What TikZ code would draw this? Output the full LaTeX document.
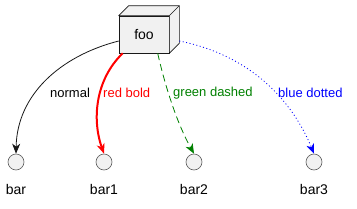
\documentclass[tikz,border=0pt]{standalone}
\usepackage{fontspec}
\setmainfont{Liberation Sans}
\usetikzlibrary{arrows.meta,calc}
\definecolor{boxfill}{HTML}{F1F1F1}
\definecolor{boxline}{HTML}{181818}
\definecolor{dgreen}{RGB}{0,128,0}
\tikzset{
  cube/.style={draw=boxline, fill=boxfill, line width=0.6pt, minimum width=50pt, minimum height=37pt, inner sep=0pt, font=\fontsize{14}{16}\selectfont},
  usecase/.style={circle, draw=boxline!70, fill=boxfill, line width=0.6pt, minimum size=16pt, inner sep=0pt},
  lbl/.style={font=\fontsize{14}{16}\selectfont, inner sep=0pt},
  elbl/.style={font=\fontsize{13}{15}\selectfont, inner sep=0pt, anchor=west},
  tip/.style={-{Stealth[length=10pt,width=8pt,inset=3pt]}},
}
\begin{document}
\begin{tikzpicture}[x=1pt,y=-1pt]
\useasboundingbox (0,0) rectangle (357,209);
% cube
\node[cube] (foo) at (144,34.5) {foo};
\coordinate (btl) at ($(foo.north west)+(10,-10)$);
\coordinate (btr) at ($(foo.north east)+(10,-10)$);
\coordinate (bbr) at ($(foo.south east)+(10,-10)$);
\filldraw[draw=boxline, fill=boxfill, line width=0.6pt, line join=round]
  (foo.north west) -- (btl) -- (btr) -- (bbr) -- (foo.south east) -- (foo.north east) -- cycle;
\draw[boxline, line width=0.6pt] (foo.north east) -- (btr);
% targets
\node[usecase] (bar) at (16,162) {};
\node[usecase] (bar1) at (104,162) {};
\node[usecase] (bar2) at (194,162) {};
\node[usecase] (bar3) at (314,162) {};
\node[lbl] (tbar) at (16,189) {bar};
\node[lbl] (tbar1) at (104,189) {bar1};
\node[lbl] (tbar2) at (194,189) {bar2};
\node[lbl] (tbar3) at (314,189) {bar3};
% edges
\draw[tip, boxline, line width=0.8pt] ($(foo.west)+(0,6.5)$) .. controls (60,56) and (17,95) .. (bar.north);
\draw[tip, red, line width=2pt] ($(foo.south west)+(4,0)$) .. controls (95,80) and (92,120) .. (bar1.north);
\draw[tip, dgreen, line width=0.8pt, dash pattern=on 7pt off 4pt] ($(foo.south west)+(39,0)$) .. controls (166,90) and (178,125) .. (bar2.north);
\draw[tip, blue, line width=0.8pt, dash pattern=on 1pt off 2.5pt] ($(foo.east)+(10,6.5)$) .. controls (250,55) and (292,100) .. (bar3.north);
% edge labels
\node[elbl] (lnormal) at (50,93) {normal};
\node[elbl, text=red] (lred) at (103,93) {red bold};
\node[elbl, text=dgreen] (lgreen) at (173,93) {green dashed};
\node[elbl, text=blue] (lblue) at (278,93) {blue dotted};
\end{tikzpicture}
\end{document}
